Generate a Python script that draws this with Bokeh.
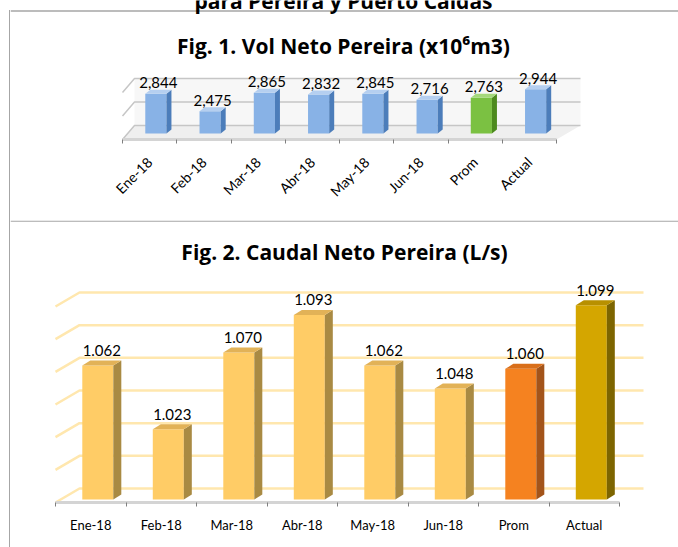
import math
from bokeh.plotting import figure
from bokeh.models import Range1d, FixedTicker, Span, Label, ColumnDataSource, Div, Spacer
from bokeh.layouts import column, row
from bokeh.embed import file_html
from bokeh.resources import INLINE
from bokeh.core.properties import value

# ---------------- data ----------------
categories = ["Ene-18", "Feb-18", "Mar-18", "Abr-18", "May-18", "Jun-18", "Prom", "Actual"]
vol_values = [2844, 2475, 2865, 2832, 2845, 2716, 2763, 2944]
vol_grid = [2000, 2500, 3000]
caudal_values = [1.062, 1.023, 1.070, 1.093, 1.062, 1.048, 1.060, 1.099]
caudal_grid = [0.98, 1.00, 1.02, 1.04, 1.06, 1.08, 1.10]

header = "para Pereira y Puerto Caldas"
title1 = "Fig. 1. Vol Neto Pereira (x10\u2076m3)"
title2 = "Fig. 2. Caudal Neto Pereira (L/s)"

FONT = "Lato"
TFONT = "Open Sans"
BORDER = "#A6A6A6"

PAGE_W = 678
H1 = 220
H2 = 327
LEFT = 10            # page x where the figures start (border line at x=9)
W = PAGE_W - LEFT


def base_fig(width, height, xr, yr, bottom, label_px):
    p = figure(width=width, height=height, x_range=xr, y_range=yr,
               output_backend="svg", toolbar_location=None, y_axis_location=None,
               min_border_left=0, min_border_right=0, min_border_top=0,
               min_border_bottom=bottom)
    p.outline_line_color = None
    p.xgrid.visible = False
    p.ygrid.visible = False
    p.background_fill_color = "white"
    p.border_fill_color = "white"
    ax = p.xaxis[0]
    ax.ticker = FixedTicker(ticks=[i + 0.5 for i in range(len(categories))],
                            minor_ticks=list(range(len(categories) + 1)))
    ax.major_label_overrides = {i + 0.5: c for i, c in enumerate(categories)}
    ax.bounds = (0, len(categories))
    ax.major_tick_in = 0
    ax.major_tick_out = 0
    ax.minor_tick_in = 0
    ax.minor_tick_out = 4
    ax.minor_tick_line_color = "#7F7F7F"
    ax.axis_line_color = "#D4D4D4"
    ax.axis_line_width = 3
    ax.major_label_text_font = FONT
    ax.major_label_text_font_size = label_px
    ax.major_label_text_color = "#000000"
    return p


def bars3d(p, vals, sx, sy, plane_dy, rel_l, rel_r, side_px, top_px,
           fronts, tops, sides, label_fmt, label_gap, floor):
    n = len(vals)
    dx = side_px / sx
    dy = top_px / sy
    off = plane_dy / sy
    left = [i + rel_l for i in range(n)]
    right = [i + rel_r for i in range(n)]
    bot = [floor + off] * n
    top = [v + off for v in vals]
    p.quad(left=left, right=right, bottom=bot, top=top, fill_color=fronts, line_color=None)
    side_xs = [[r, r, r + dx, r + dx] for r in right]
    side_ys = [[b, t, t + dy, b + dy] for b, t in zip(bot, top)]
    p.patches(side_xs, side_ys, fill_color=sides, line_color=None)
    top_xs = [[l, r, r + dx, l + dx] for l, r in zip(left, right)]
    top_ys = [[t, t, t + dy, t + dy] for t in top]
    p.patches(top_xs, top_ys, fill_color=tops, line_color=None)
    src = ColumnDataSource(dict(
        x=[(l + r) / 2 + dx / 2 for l, r in zip(left, right)],
        y=[t + dy + label_gap / sy for t in top],
        t=[label_fmt(v) for v in vals]))
    p.text(x="x", y="y", text="t", source=src, text_font=value(FONT),
           text_font_size="15px", text_align="center", text_baseline="alphabetic",
           text_color="#000000")


# ---------------- figure 1 (page y 0..220) ----------------
SX1 = 54.25          # px per category
X01 = 122 - LEFT     # frame px of category boundary 0
SY1 = 0.047          # px per unit
AX1 = 139            # page y of axis
FB1 = H1 - AX1
fh1 = AX1
xr1 = Range1d(-X01 / SX1, (W - X01) / SX1)
yr1 = Range1d(2000, 2000 + fh1 / SY1)
p1 = base_fig(W, H1, xr1, yr1, FB1, "14px")
p1.xaxis.major_label_orientation = math.pi / 4
p1.xaxis.major_label_standoff = 16


def y1(page_y):
    return 2000 + (AX1 - page_y) / SY1


p1.add_layout(Span(location=y1(10.5), dimension="width",
                   line_color=BORDER, line_width=1.3))

wx1, wy1, wxr1 = 12 / SX1, 14 / SY1, 24 / SX1
p1.patch([0, 8, 8 + wxr1, wx1], [2000, 2000, 2000 + wy1, 2000 + wy1],
         fill_color="#EFEFEF", line_color=None)
p1.patch([wx1, 8 + wxr1, 8 + wxr1, wx1],
         [2000 + wy1, 2000 + wy1, vol_grid[-1] + wy1, vol_grid[-1] + wy1],
         fill_color="#F7F7F7", line_color=None)
gx, gy = [], []
for g in vol_grid:
    gx.append([0, wx1, 8 + wxr1])
    gy.append([g, g + wy1, g + wy1])
p1.multi_line(gx, gy, line_color="#C6C6C6", line_width=1.5)

blue_f, blue_t, blue_s = "#88B2E6", "#B5CFF0", "#4C7DBA"
grn_f, grn_t, grn_s = "#7BC142", "#A5D87B", "#4D8A1E"
fr1 = [blue_f] * 6 + [grn_f, blue_f]
tp1 = [blue_t] * 6 + [grn_t, blue_t]
sd1 = [blue_s] * 6 + [grn_s, blue_s]
bars3d(p1, vol_values, SX1, SY1, 6, 0.42, 0.81, 5, 4, fr1, tp1, sd1,
       lambda v: f"{v:,}", 7, 2000)

xc1 = (xr1.start + xr1.end) / 2 - 1.0 / SX1
p1.add_layout(Label(x=xc1, y=y1(45), text=title1, text_font=TFONT,
                    text_font_size="21px", text_font_style="bold",
                    text_align="center", text_baseline="middle",
                    text_color="#000000"))
p1.add_layout(Label(x=xc1, y=y1(0.5), text=header, text_font=TFONT,
                    text_font_size="21px", text_font_style="bold",
                    text_align="center", text_baseline="alphabetic",
                    text_color="#000000"))

# ---------------- figure 2 (page y 220..547) ----------------
SX2 = 70.5
X02 = 55 - LEFT
SY2 = 1633.0
AX2 = 502 - 220      # canvas y of axis
FB2 = H2 - AX2
fh2 = AX2
xr2 = Range1d(-X02 / SX2, (W - X02) / SX2)
yr2 = Range1d(0.98, 0.98 + fh2 / SY2)
p2 = base_fig(W, H2, xr2, yr2, FB2, "13px")
p2.xaxis.major_label_standoff = 10


def y2(page_y):
    return 0.98 + (502 - page_y) / SY2


wx2, wy2 = 24 / SX2, 14 / SY2
gx, gy = [], []
for g in caudal_grid:
    gx.append([0, wx2, 8 + wx2])
    gy.append([g, g + wy2, g + wy2])
p2.multi_line(gx, gy, line_color="#FFE7AE", line_width=2.5)

fr2 = ["#FFCC66"] * 6 + ["#F58220", "#D4A600"]
tp2 = ["#E2B257"] * 6 + ["#D96F1A", "#B89000"]
sd2 = ["#A98A43"] * 6 + ["#A3541A", "#7D6500"]
bars3d(p2, caudal_values, SX2, SY2, 3, 0.38, 0.82, 8, 5, fr2, tp2, sd2,
       lambda v: f"{v:.3f}", 10, 0.98)

p2.add_layout(Label(x=(xr2.start + xr2.end) / 2, y=y2(251), text=title2,
                    text_font=TFONT, text_font_size="21px", text_font_style="bold",
                    text_align="center", text_baseline="middle",
                    text_color="#000000"))
p2.add_layout(Span(location=y2(220.6), dimension="width",
                   line_color=BORDER, line_width=1.3))

# left border of the table
border_col = column(Spacer(width=1, height=10, margin=0),
                    Div(text="", width=1, height=H1 + H2 - 10, margin=0,
                        styles={"background-color": BORDER}),
                    margin=0)
layout = row(Spacer(width=LEFT - 1, height=H1 + H2, margin=0), border_col,
             column(p1, p2, margin=0), margin=0)

open("out.html", "w").write(file_html(layout, INLINE))
